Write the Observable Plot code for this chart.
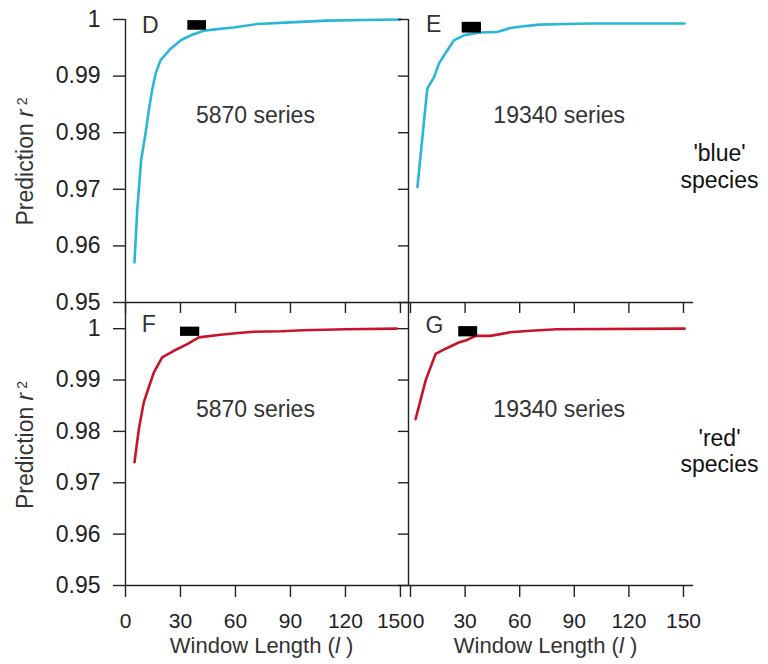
<!DOCTYPE html>
<html>
<head>
<meta charset="utf-8">
<script src="https://cdn.jsdelivr.net/npm/d3@7"></script>
<script src="https://cdn.jsdelivr.net/npm/@observablehq/plot@0.6"></script>
<style>
  body { margin: 0; background: #fff; }
  #chart { position: relative; width: 768px; height: 664px; background: #fff; }
  #chart svg { position: absolute; left: 0; top: 0; }
</style>
</head>
<body>
<div id="chart"></div>
<script>
// ---------- data ----------
const xTicks = [0, 30, 60, 90, 120, 150];
const yTicks = [0.95, 0.96, 0.97, 0.98, 0.99, 1];
const panelNames = ["D", "E", "F", "G"];
const seriesLabels = ["5870 series", "19340 series", "5870 series", "19340 series"];
const speciesNames = ["'blue'", "'red'"];
const speciesWord = "species";
const xTitle = "Window Length (";
const yTitle = "Prediction ";

// D: blue species, 5870 series
const blue5870X = [4.9, 6.4, 8.5, 10.9, 12.7, 14.5, 16.4, 19.1, 24.5, 30, 36.4, 42.7, 50, 59, 72, 90, 110, 130, 150];
const blue5870Y = [0.9571, 0.9663, 0.9751, 0.9798, 0.9839, 0.9875, 0.9904, 0.9928, 0.9948, 0.9963, 0.9973, 0.9980, 0.9983, 0.9986, 0.9992, 0.9995, 0.9998, 0.9999, 1.0];
// E: blue species, 19340 series
const blue19340X = [3.8, 9.2, 12.9, 15.6, 18.3, 23.8, 29.3, 34, 38.4, 47.6, 54.8, 62, 71, 85, 100, 125, 150.6];
const blue19340Y = [0.9704, 0.9878, 0.9898, 0.9922, 0.9936, 0.9963, 0.9972, 0.9975, 0.9977, 0.9978, 0.9985, 0.9988, 0.9991, 0.9992, 0.9993, 0.9993, 0.9993];
// F: red species, 5870 series
const red5870X = [4.9, 7.3, 10, 12.7, 15.5, 20, 26.4, 33.7, 40, 51.8, 60, 70, 85, 97, 120, 148];
const red5870Y = [0.9740, 0.9805, 0.9857, 0.9886, 0.9915, 0.9944, 0.9957, 0.9970, 0.9983, 0.9988, 0.9991, 0.9994, 0.9995, 0.9997, 0.9999, 1.0];
// G: red species, 19340 series
const red19340X = [2.8, 8.3, 13.8, 19.3, 26.5, 31, 35.7, 43.9, 54.8, 65.8, 80.4, 150.6];
const red19340Y = [0.9824, 0.9899, 0.9951, 0.9961, 0.9973, 0.9978, 0.9986, 0.9986, 0.9993, 0.9996, 0.9999, 1.0];

// black bars marking the chosen window range (D, E, F, G)
const barX1 = [34, 28.4, 30, 26.5];
const barX2 = [44.2, 39, 40.5, 36.9];
const barY1 = [0.9981, 0.9976, 0.9985, 0.9984];
const barY2 = [0.9998, 0.9995, 1.0003, 1.0004];

// ---------- drawing ----------
const FONT = '"Liberation Sans", Arial, Helvetica, sans-serif';
const INK = "#222";
const BLUE = "#2bb5d6";
const RED = "#c8142a";
const W = 768, H = 664;
const fmt = d => d === 1 ? "1" : d.toFixed(2);
const X_FS = 21;

const rows = {
  top:    {marginTop: 19,  marginBottom: H - 302, yDomain: [0.95, 1.0]},
  bottom: {marginTop: 303, marginBottom: H - 585, yDomain: [0.95, 1.0049]}
};
const cols = {
  left:  {marginLeft: 125, marginRight: W - 408, xDomain: [0, 154.4], edgeTick: 150, edgeDx: -6},
  right: {marginLeft: 408, marginRight: W - 693, xDomain: [-1.1, 155.5], edgeTick: 0, edgeDx: 8}
};

const panels = [
  {i: 0, row: "top", col: "left", xs: blue5870X, ys: blue5870Y, color: BLUE,
   nameAt: [13.6, 0.99894], seriesAt: [70.9, 0.98295], species: null},
  {i: 1, row: "top", col: "right", xs: blue19340X, ys: blue19340Y, color: BLUE,
   nameAt: [12.7, 0.99912], seriesAt: [81.7, 0.98295], species: 0, speciesAt: [169.8, 0.97633, 0.97160]},
  {i: 2, row: "bottom", col: "left", xs: red5870X, ys: red5870Y, color: RED,
   nameAt: [12.7, 1.00078], seriesAt: [70.9, 0.98424], species: null},
  {i: 3, row: "bottom", col: "right", xs: red19340X, ys: red19340Y, color: RED,
   nameAt: [13.1, 1.00058], seriesAt: [81.7, 0.98424], species: 1, speciesAt: [169.8, 0.97860, 0.97360]}
];

const chart = document.getElementById("chart");

for (const p of panels) {
  const r = rows[p.row], c = cols[p.col];
  const isLeft = p.col === "left", isBottom = p.row === "bottom";
  const labels = [
    {t: panelNames[p.i], x: p.nameAt[0], y: p.nameAt[1]},
    {t: seriesLabels[p.i], x: p.seriesAt[0], y: p.seriesAt[1]}
  ];
  const species = p.species === null ? [] : [
    {t: speciesNames[p.species], x: p.speciesAt[0], y: p.speciesAt[1]},
    {t: speciesWord, x: p.speciesAt[0], y: p.speciesAt[2]}
  ];
  const xAxisMarks = [
    Plot.axisX({ticks: xTicks, tickSize: isBottom ? 12 : 11, tickPadding: 16,
      tickFormat: isBottom ? (d => d === c.edgeTick ? "" : String(d)) : () => "", label: null, color: INK,
      strokeWidth: 1.4, fontSize: X_FS, fontFamily: FONT})
  ];
  if (isBottom) {
    // the label at the shared panel edge is nudged so "150" and "0" do not collide
    xAxisMarks.push(Plot.axisX({ticks: [c.edgeTick], tickSize: 0, tickPadding: 28, dx: c.edgeDx,
      tickFormat: d => String(d), label: null, color: INK, strokeWidth: 0, fontSize: X_FS, fontFamily: FONT}));
  }
  const plot = Plot.plot({
    width: W, height: H,
    marginLeft: c.marginLeft, marginRight: c.marginRight,
    marginTop: r.marginTop, marginBottom: r.marginBottom,
    style: {background: "transparent", fontFamily: FONT, fontSize: "23px", color: INK, overflow: "visible"},
    x: {domain: c.xDomain},
    y: {domain: r.yDomain},
    marks: [
      Plot.ruleX([c.xDomain[0]], {stroke: INK, strokeWidth: 1.4}),
      Plot.ruleY([r.yDomain[0]], {stroke: INK, strokeWidth: 1.4}),
      Plot.axisY({ticks: yTicks, tickSize: isLeft ? 12 : 10, tickPadding: 13,
        tickFormat: isLeft ? fmt : () => "", label: null, color: INK,
        strokeWidth: 1.4, fontSize: 23, fontFamily: FONT}),
      ...xAxisMarks,
      Plot.line(p.xs, {x: p.xs, y: p.ys, stroke: p.color, strokeWidth: 2.6, curve: "linear"}),
      Plot.rect([0], {x1: [barX1[p.i]], x2: [barX2[p.i]], y1: [barY1[p.i]], y2: [barY2[p.i]], fill: "#000"}),
      Plot.text(labels, {x: "x", y: "y", text: "t", fill: "#333", fontSize: 23, fontFamily: FONT, textAnchor: "middle", lineAnchor: "middle"}),
      Plot.text(species, {x: "x", y: "y", text: "t", fill: "#111", fontSize: 23, fontFamily: FONT, textAnchor: "middle", lineAnchor: "middle"})
    ]
  });
  const svg = d3.select(plot);
  if (isLeft) {
    const cy = (r.marginTop + (H - r.marginBottom)) / 2 + 1;
    const t = svg.append("text")
      .attr("transform", `translate(33,${cy}) rotate(-90)`)
      .attr("text-anchor", "middle")
      .attr("font-family", FONT).attr("font-size", 23).attr("fill", "#333");
    t.append("tspan").text(yTitle);
    t.append("tspan").attr("font-style", "italic").text("r");
    t.append("tspan").attr("dx", 4).attr("dy", "-0.45em").attr("font-size", 14).text("2");
  }
  if (isBottom) {
    const cx = (c.marginLeft + (W - c.marginRight)) / 2 - 5;
    const t = svg.append("text")
      .attr("x", cx).attr("y", 653)
      .attr("text-anchor", "middle")
      .attr("font-family", FONT).attr("font-size", 22).attr("fill", "#333");
    t.append("tspan").text(xTitle);
    t.append("tspan").attr("font-style", "italic").text("l");
    t.append("tspan").text(" )");
  }
  chart.appendChild(plot);
}
</script>
</body>
</html>
